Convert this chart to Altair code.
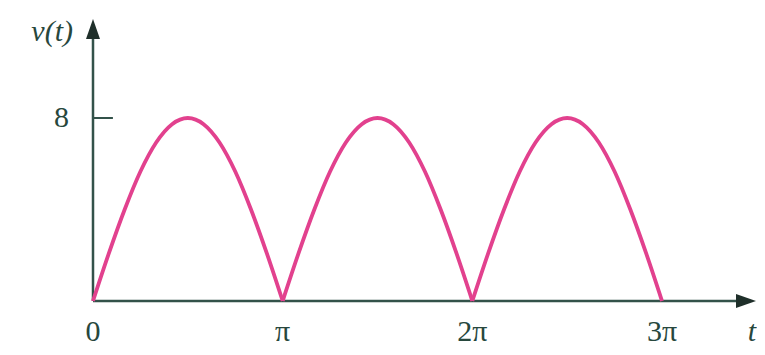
import altair as alt
import pandas as pd

# ---- data ----
arch_t1 = [0.0, 0.083, 0.167, 0.25, 0.333, 0.417, 0.5, 0.583, 0.667, 0.75, 0.833, 0.917, 1.0]
arch_t2 = [1.0, 1.083, 1.167, 1.25, 1.333, 1.417, 1.5, 1.583, 1.667, 1.75, 1.833, 1.917, 2.0]
arch_t3 = [2.0, 2.083, 2.167, 2.25, 2.333, 2.417, 2.5, 2.583, 2.667, 2.75, 2.833, 2.917, 3.0]
arch_v1 = [0, 2.07, 4.0, 5.66, 6.93, 7.73, 8.0, 7.73, 6.93, 5.66, 4.0, 2.07, 0]
arch_v2 = [0, 2.07, 4.0, 5.66, 6.93, 7.73, 8.0, 7.73, 6.93, 5.66, 4.0, 2.07, 0]
arch_v3 = [0, 2.07, 4.0, 5.66, 6.93, 7.73, 8.0, 7.73, 6.93, 5.66, 4.0, 2.07, 0]

x_tick_pos = [0, 1, 2, 3]
x_tick_labels = ["0", "π", "2π", "3π"]
y_tick_val = 8
y_tick_label = "8"

rows = []
for name, ts, vs in (("a", arch_t1, arch_v1), ("b", arch_t2, arch_v2), ("c", arch_t3, arch_v3)):
    for t, v in zip(ts, vs):
        rows.append({"t": t, "v": v, "arch": name})
df = pd.DataFrame(rows)
xt_df = pd.DataFrame({"t": x_tick_pos, "label": x_tick_labels})
one = alt.Data(values=[{}])

AX = "#33524a"
TXT = "#27473d"
CURVE = "#e2418e"
FONT = "Liberation Serif"
FS = 30

xs = alt.Scale(domain=[-0.44815, 3.50082], nice=False, zero=False)
ys = alt.Scale(domain=[-2.0109, 12.8087], nice=False, zero=False)

def X(**kw):
    return alt.X(scale=xs, axis=None, **kw)

def Y(**kw):
    return alt.Y(scale=ys, axis=None, **kw)

curve = alt.Chart(df).mark_line(color=CURVE, strokeWidth=3.8, interpolate="monotone").encode(
    x=X(field="t", type="quantitative"),
    y=Y(field="v", type="quantitative"),
    detail="arch:N",
)

x_axis = alt.Chart(one).mark_rule(color=AX, strokeWidth=2.5).encode(
    x=X(datum=0), x2=alt.X2(datum=3.45), y=Y(datum=0)
)
y_axis = alt.Chart(one).mark_rule(color=AX, strokeWidth=2.5).encode(
    x=X(datum=0), y=Y(datum=0), y2=alt.Y2(datum=11.9)
)
y_tick = alt.Chart(one).mark_rule(color=AX, strokeWidth=2).encode(
    x=X(datum=0), x2=alt.X2(datum=0.105), y=Y(datum=y_tick_val)
)
arrow_up = alt.Chart(one).mark_point(
    shape="M0,-1L0.7,1L-0.7,1Z", size=400, filled=True, color="#1f2f2a", opacity=1, strokeWidth=0
).encode(x=X(datum=0), y=Y(datum=11.89))
arrow_right = alt.Chart(one).mark_point(
    shape="M1,0L-1,0.7L-1,-0.7Z", size=400, filled=True, color="#1f2f2a", opacity=1, strokeWidth=0
).encode(x=X(datum=3.4429), y=Y(datum=0))

x_labels = alt.Chart(xt_df).mark_text(
    font=FONT, fontSize=FS, color=TXT, align="center", baseline="middle"
).encode(x=X(field="t", type="quantitative"), y=Y(datum=-1.355), text="label:N")

y_label = alt.Chart(one).mark_text(
    font=FONT, fontSize=FS, color=TXT, align="right", baseline="middle", dx=-24, text=y_tick_label
).encode(x=X(datum=0), y=Y(datum=y_tick_val))

v_label = alt.Chart(one).mark_text(
    font=FONT, fontSize=FS, fontStyle="italic", color=TXT, align="right", baseline="middle",
    dx=-20, text="v(t)"
).encode(x=X(datum=0), y=Y(datum=11.76))

t_label = alt.Chart(one).mark_text(
    font=FONT, fontSize=FS, fontStyle="italic", color=TXT, align="center", baseline="middle", text="t"
).encode(x=X(datum=3.4745), y=Y(datum=-1.355))

chart = alt.layer(
    x_axis, y_axis, y_tick, arrow_up, arrow_right, curve, x_labels, y_label, v_label, t_label
).properties(
    width=749, height=339, padding=0, autosize=alt.AutoSizeParams(type="none")
).configure_view(strokeWidth=0)

chart.save("out.html", embed_options={"renderer": "svg", "actions": False})
